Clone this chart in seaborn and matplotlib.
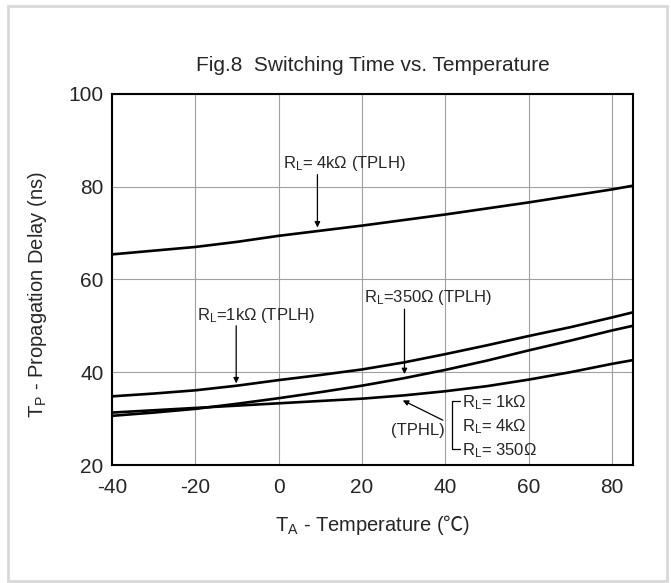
import numpy as np
import pandas as pd
import matplotlib
matplotlib.use('Agg')
import matplotlib.pyplot as plt
import seaborn as sns
from matplotlib.patches import Rectangle

# temperatures (deg C) and propagation delays (ns)
temp = [-40, -30, -20, -10, 0, 10, 20, 30, 40, 50, 60, 70, 80, 85]
tplh_4k = [65.4, 66.2, 67.0, 68.1, 69.4, 70.5, 71.6, 72.8, 74.0, 75.3, 76.6, 78.0, 79.4, 80.2]
tplh_1k = [34.8, 35.4, 36.1, 37.1, 38.3, 39.4, 40.6, 42.1, 43.9, 45.8, 47.8, 49.7, 51.8, 52.9]
tplh_350 = [30.6, 31.3, 32.1, 33.2, 34.4, 35.7, 37.1, 38.7, 40.5, 42.5, 44.7, 46.8, 49.0, 50.0]
tphl = [31.3, 31.8, 32.3, 32.8, 33.3, 33.8, 34.3, 35.0, 35.9, 37.0, 38.4, 40.0, 41.8, 42.6]

xticks = [-40, -20, 0, 20, 40, 60, 80]
yticks = [20, 40, 60, 80, 100]

df = pd.DataFrame({'temp': temp, '4k': tplh_4k, '1k': tplh_1k,
                   '350': tplh_350, 'tphl': tphl})
long_df = df.melt(id_vars='temp', var_name='curve', value_name='delay')

sns.set_style('white')
plt.rcParams['font.family'] = ['Liberation Sans', 'Noto Sans CJK SC', 'DejaVu Sans']
plt.rcParams['mathtext.default'] = 'regular'
plt.rcParams['mathtext.fontset'] = 'custom'
plt.rcParams['mathtext.rm'] = 'Noto Sans CJK SC'
plt.rcParams['axes.unicode_minus'] = False

fig = plt.figure(figsize=(6.71, 5.83), dpi=100)
ax = fig.add_axes([0.167, 0.2024, 0.776, 0.6366])

sns.lineplot(data=long_df, x='temp', y='delay', units='curve', estimator=None,
             color='black', linewidth=1.9, ax=ax)

ax.set_xlim(-40, 85)
ax.set_ylim(20, 100)
ax.set_xticks(xticks)
ax.set_yticks(yticks)
ax.tick_params(axis='both', labelsize=15, length=4, width=1.2, direction='out',
               color='black')
ax.tick_params(axis='x', pad=5)
ax.tick_params(axis='y', pad=2)
ax.grid(True, color='#a0a0a0', linewidth=0.8)
for s in ax.spines.values():
    s.set_color('black')
    s.set_linewidth(1.5)

ax.set_xlabel(r'$T_A$ - Temperature ($\mathrm{℃}$)', fontsize=14.5, labelpad=12)
ax.set_ylabel(r'$T_P$ - Propagation Delay (ns)', fontsize=14.5)
ax.yaxis.set_label_coords(-0.121, 0.46)
fig.text(0.556, 0.888, 'Fig.8  Switching Time vs. Temperature', fontsize=15,
         ha='center', va='center')

# annotations
fs = 12
ax.text(1.1, 85, r'$R_L$= 4kΩ (TPLH)', fontsize=fs, va='center', ha='left')
ax.annotate('', xy=(9.3, 70.6), xytext=(9.3, 83.2),
            arrowprops=dict(arrowstyle='-|>', color='black', lw=0.9, mutation_scale=8))
ax.text(-19.6, 52.3, r'$R_L$=1kΩ (TPLH)', fontsize=fs, va='center', ha='left')
ax.annotate('', xy=(-10.2, 37.0), xytext=(-10.2, 50.6),
            arrowprops=dict(arrowstyle='-|>', color='black', lw=0.9, mutation_scale=8))
ax.text(20.4, 56.2, r'$R_L$=350Ω (TPLH)', fontsize=fs, va='center', ha='left')
ax.annotate('', xy=(30.2, 39.0), xytext=(30.2, 54.2),
            arrowprops=dict(arrowstyle='-|>', color='black', lw=0.9, mutation_scale=8))

ax.annotate('', xy=(29.2, 34.2), xytext=(40.0, 29.4),
            arrowprops=dict(arrowstyle='-|>', color='black', lw=0.9, mutation_scale=8))
ax.text(33.3, 27.4, '(TPHL)', fontsize=fs, va='center', ha='center')
ax.plot([43.6, 41.5, 41.5, 43.6], [33.8, 33.8, 23.4, 23.4], color='black', lw=0.9)
ax.text(44.1, 33.4, r'$R_L$= 1kΩ', fontsize=fs, va='center', ha='left')
ax.text(44.1, 28.2, r'$R_L$= 4kΩ', fontsize=fs, va='center', ha='left')
ax.text(44.1, 23.0, r'$R_L$= 350Ω', fontsize=fs, va='center', ha='left')

# light outer frame
fig.patches.append(Rectangle((0.012, 0.003), 0.982, 0.987, transform=fig.transFigure,
                             fill=False, edgecolor='#d8d8d8', linewidth=2))

plt.savefig('out.png', dpi=100)
